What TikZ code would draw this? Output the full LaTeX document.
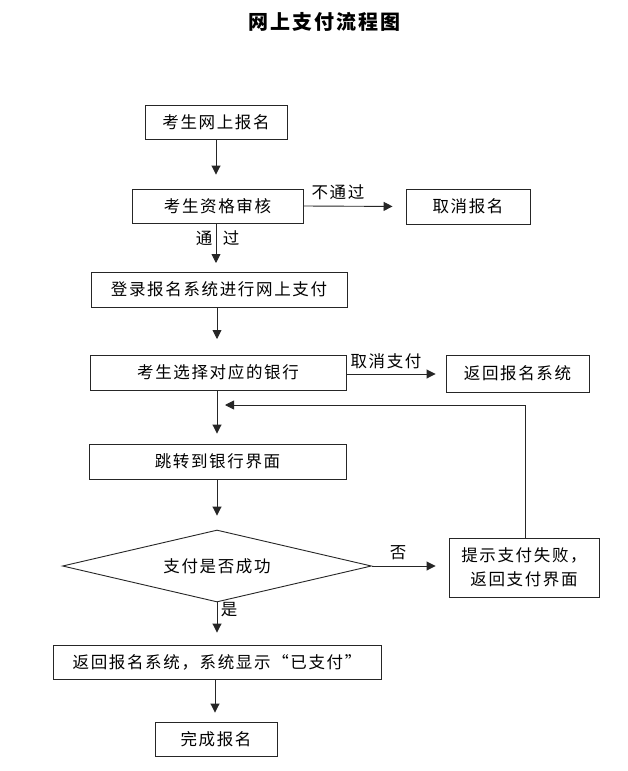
\documentclass[tikz,border=0pt]{standalone}
\usepackage{fontspec}
\setmainfont{Noto Sans CJK SC}[LetterSpace=10]
\usetikzlibrary{shapes.geometric,arrows.meta}
\begin{document}
\begin{tikzpicture}[x=1pt,y=-1pt,
  every node/.style={font=\fontsize{16.5}{20}\selectfont, text=black},
  box/.style={draw=black!85, line width=0.9pt, inner sep=0pt, align=center},
  lbl/.style={inner sep=0pt},
  arr/.style={draw=black!85, line width=0.9pt, -{Triangle[length=9pt,width=9pt]}},
  ln/.style={draw=black!85, line width=0.9pt}]
\useasboundingbox[fill=white] (0,0) rectangle (627,771);
\node[font=\fontsize{20}{24}\selectfont\bfseries] (title) at (324,22) {网上支付流程图};
\node[box, minimum width=142pt, minimum height=34pt] (b1) at (216,122) {考生网上报名};
\node[box, minimum width=171pt, minimum height=34pt] (b2) at (217.5,206) {考生资格审核};
\node[box, minimum width=124pt, minimum height=35pt] (cancel) at (468,206.5) {取消报名};
\node[box, minimum width=256pt, minimum height=35pt] (b4) at (219,289.5) {登录报名系统进行网上支付};
\node[box, minimum width=256pt, minimum height=35pt] (b6) at (218,372.5) {考生选择对应的银行};
\node[box, minimum width=143pt, minimum height=37pt] (ret) at (517.5,373.5) {返回报名系统};
\node[box, minimum width=257pt, minimum height=35pt] (b7) at (217.5,461.5) {跳转到银行界面};
\node[box, diamond, aspect=4.3, minimum width=309pt, minimum height=72pt] (dia) at (217,566) {支付是否成功};
\node[box, minimum width=150pt, minimum height=59pt, font=\fontsize{16.5}{24}\selectfont] (fail) at (524,567.5) {提示支付失败，\\返回支付界面};
\node[box, minimum width=328pt, minimum height=34pt] (b9) at (217,662) {返回报名系统，系统显示“已支付”};
\node[box, minimum width=122pt, minimum height=34pt] (done) at (216,739) {完成报名};
% connectors
\draw[arr, shorten >=14pt] (b1.south) -- (b1.south |- b2.north);
\draw[arr, shorten >=13pt] (b2.east) -- (cancel.west);
\node[lbl] (l1) at (338,192) {不通过};
\draw[arr, shorten >=9pt] (b2.south -| 216,0) -- (216,272);
\node[lbl] (l2) at (204,238) {通};
\node[lbl] (l3) at (231,238) {过};
\draw[arr, shorten >=16pt] (b4.south -| 217,0) -- (217,355);
\draw[arr, shorten >=10pt] (b6.east |- 0,374) -- (ret.west |- 0,374);
\node[lbl] (l4) at (386,361) {取消支付};
\draw[arr, shorten >=10pt] (b6.south -| 217,0) -- (b7.north -| 217,0);
\coordinate (fb1) at (525,405);
\coordinate (fb2) at (225,405);
\draw[ln] (fail.north -| 525,0) -- (fb1);
\draw[arr] (fb1) -- (fb2);
\draw[arr, shorten >=14pt] (b7.south -| 217,0) -- (dia.north);
\draw[arr, shorten >=13pt] (dia.east) -- (fail.west |- dia.east);
\node[lbl] (l5) at (398,553) {否};
\draw[arr, shorten >=12pt] (dia.south) -- (b9.north -| dia.south);
\node[lbl] (l6) at (229,610) {是};
\draw[arr, shorten >=9pt] (b9.south -| 215,0) -- (done.north -| 215,0);
\end{tikzpicture}
\end{document}
